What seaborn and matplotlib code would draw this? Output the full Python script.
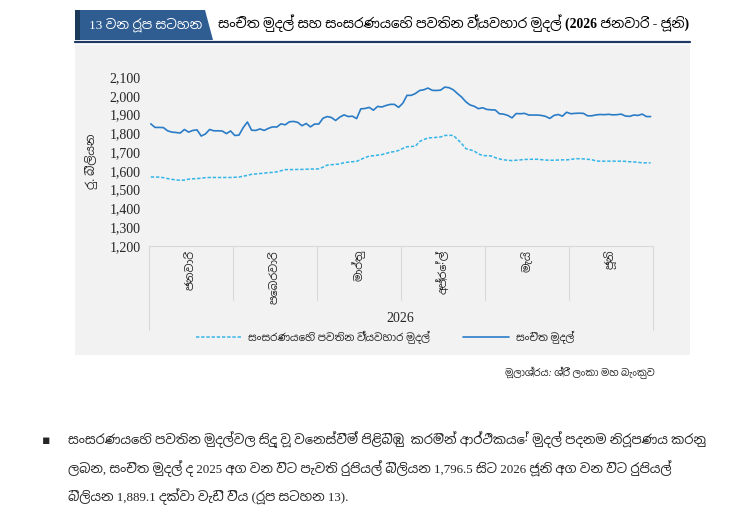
import numpy as np
import pandas as pd
import matplotlib
matplotlib.use("Agg")
import matplotlib.pyplot as plt
import seaborn as sns
from matplotlib import font_manager
from matplotlib.patches import Polygon, Rectangle
from matplotlib.lines import Line2D

# Data (Rs. billion, Jan - Jun 2026)
months = ["ජනවාරි", "පෙබරවාරි", "මාර්තු", "අප්‍රේල්", "මැයි", "ජූනි"]
points_per_month = [20, 20, 20, 20, 20, 20]
year_label = "2026"

reserve_money = [
    1850, 1831, 1831, 1830, 1813, 1806, 1804, 1801, 1820, 1806,
    1815, 1818, 1785, 1796, 1820, 1813, 1813, 1812, 1798, 1812,
    1788, 1790, 1830, 1860, 1816, 1815, 1823, 1815, 1826, 1834,
    1833, 1850, 1845, 1861, 1863, 1858, 1840, 1852, 1834, 1849,
    1849, 1880, 1889, 1884, 1868, 1886, 1898, 1889, 1891, 1878,
    1930, 1932, 1938, 1923, 1943, 1940, 1948, 1954, 1954, 1938,
    1960, 2002, 2002, 2012, 2028, 2032, 2041, 2029, 2028, 2030,
    2046, 2043, 2032, 2012, 1993, 1968, 1951, 1944, 1931, 1936,
    1927, 1925, 1924, 1904, 1902, 1895, 1882, 1905, 1904, 1906,
    1897, 1897, 1897, 1895, 1890, 1879, 1895, 1900, 1891, 1912,
    1904, 1906, 1907, 1906, 1893, 1893, 1898, 1900, 1899, 1901,
    1898, 1899, 1902, 1892, 1890, 1897, 1895, 1902, 1889, 1889,
]
currency_in_circulation = [
    1567, 1566, 1566, 1563, 1558, 1554, 1551, 1549, 1550, 1555,
    1557, 1558, 1560, 1563, 1564, 1564, 1564, 1564, 1564, 1564,
    1565, 1566, 1571, 1575, 1581, 1583, 1585, 1587, 1590, 1591,
    1594, 1600, 1606, 1606, 1606, 1607, 1607, 1608, 1609, 1609,
    1610, 1619, 1630, 1632, 1634, 1636, 1643, 1646, 1648, 1650,
    1660, 1670, 1678, 1680, 1683, 1686, 1692, 1699, 1702, 1708,
    1719, 1728, 1729, 1731, 1756, 1766, 1775, 1776, 1778, 1780,
    1788, 1789, 1788, 1768, 1745, 1718, 1712, 1705, 1690, 1681,
    1680, 1679, 1670, 1663, 1658, 1656, 1654, 1656, 1658, 1660,
    1661, 1661, 1661, 1659, 1657, 1656, 1656, 1657, 1658, 1658,
    1660, 1664, 1664, 1663, 1661, 1659, 1652, 1651, 1651, 1651,
    1651, 1651, 1651, 1650, 1648, 1647, 1645, 1642, 1642, 1642,
]
y_ticks = list(range(1200, 2101, 100))

label_cic = "සංසරණයෙහි පවතින ව්‍යවහාර මුදල්"
label_rm = "සංචිත මුදල්"
badge_text = "13 වන රූප සටහන"
title_text = "සංචිත මුදල් සහ සංසරණයෙහි පවතින ව්‍යවහාර මුදල් (2026 ජනවාරි - ජූනි)"
ylabel_text = "රු. බිලියන"
source_text = "මූලාශ්‍රය: ශ්‍රී ලංකා මහ බැංකුව"
para_lines = [
    "සංසරණයෙහි පවතින මුදල්වල සිදු වූ වෙනස්වීම් පිළිබිඹු  කරමින් ආර්ථිකයේ මුදල් පදනම නිරූපණය කරනු",
    "ලබන, සංචිත මුදල් ද 2025 අග වන විට පැවති රුපියල් බිලියන 1,796.5 සිට 2026 ජූනි අග වන විට රුපියල්",
    "බිලියන 1,889.1 දක්වා වැඩි විය (රූප සටහන 13).",
]


def find_sinhala_font():
    try:
        from fontTools.ttLib import TTFont
    except ImportError:
        return None
    fonts = sorted(font_manager.fontManager.ttflist, key=lambda f: "sinhala" not in f.name.lower())
    for f in fonts:
        try:
            tt = TTFont(f.fname, fontNumber=0, lazy=True)
            if 0x0D9A in tt.getBestCmap():
                return f.name
        except Exception:
            continue
    return None


sns.set_theme(style="white")
sinhala = find_sinhala_font()
families = ["Liberation Serif"] + ([sinhala] if sinhala else []) + ["DejaVu Sans"]
plt.rcParams["font.family"] = families

W, H = 750, 516
fig = plt.figure(figsize=(7.5, 5.16), dpi=100)
fig.patch.set_facecolor("white")


def fx(x):
    return x / W


def fy(y):
    return 1 - y / H


# grey panel behind the chart
fig.add_artist(Rectangle((fx(75), fy(355)), fx(690) - fx(75), fy(45) - fy(355),
                         transform=fig.transFigure, facecolor="#f2f2f2", edgecolor="none", zorder=-2))

# header badge and title
fig.add_artist(Polygon([(fx(80), fy(10)), (fx(205), fy(10)), (fx(213), fy(40)), (fx(80), fy(40))],
                       closed=True, transform=fig.transFigure, facecolor="#2f5d91", edgecolor="none"))
fig.add_artist(Rectangle((fx(75), fy(40)), fx(5), fy(10) - fy(40), transform=fig.transFigure,
                         facecolor="#1b3a5a", edgecolor="none"))
fig.add_artist(Line2D([fx(75), fx(690)], [fy(42), fy(42)], transform=fig.transFigure,
                      color="#1f3864", lw=1.6))
fig.text(fx(146), fy(25), badge_text, color="white", fontsize=9.5, ha="center", va="center")
fig.text(fx(218), fy(23), title_text, color="black", fontsize=9.8, fontweight="bold", ha="left", va="center")

# main plot area
ax = fig.add_axes([fx(148.7), fy(245.7), fx(652.7) - fx(148.7), fy(77) - fy(245.7)])
ax.set_facecolor("none")

n = len(reserve_money)
df = pd.DataFrame({
    "idx": np.arange(n),
    "rm": reserve_money,
    "cic": currency_in_circulation,
})
sns.lineplot(data=df, x="idx", y="cic", ax=ax, color="#33b5e8", lw=1.1,
             linestyle=(0, (2.2, 1.2)), label=label_cic)
sns.lineplot(data=df, x="idx", y="rm", ax=ax, color="#2a7cc7", lw=1.2, label=label_rm)

ax.set_xlim(-0.5, n - 0.5)
ax.set_ylim(1200, 2100)
ax.set_yticks(y_ticks)
ax.set_yticklabels([f"{v:,}" for v in y_ticks], fontsize=10)
ax.tick_params(axis="y", length=0, pad=6)
ax.set_xticks([])
ax.set_xlabel("")
ax.set_ylabel(ylabel_text, fontsize=8.5)
ax.yaxis.set_label_coords(-0.1, 0.5)
for s in ["top", "right", "left"]:
    ax.spines[s].set_visible(False)
ax.spines["bottom"].set_color("#d9d9d9")
ax.spines["bottom"].set_linewidth(0.8)

# month category band
edges = np.concatenate([[0], np.cumsum(points_per_month)]) - 0.5
trans = ax.get_xaxis_transform()
for k, e in enumerate(edges):
    low = -0.5 if k in (0, len(edges) - 1) else -0.32
    ax.plot([e, e], [0, low], transform=trans, color="#d9d9d9", lw=0.8, clip_on=False)
centers = (edges[:-1] + edges[1:]) / 2
for c, m in zip(centers, months):
    ax.text(c, -0.025, m, rotation=90, ha="center", va="top", fontsize=8, transform=trans)
ax.text((edges[0] + edges[-1]) / 2, -0.43, year_label, ha="center", va="center", fontsize=10, transform=trans)

# legend below the chart
handles, labels = ax.get_legend_handles_labels()
ax.get_legend().remove()
fig.legend(handles, labels, loc="center", bbox_to_anchor=(fx(385), fy(337)), ncol=2, frameon=False,
           handlelength=4.4, columnspacing=3.2, handletextpad=0.6, fontsize=7.5)

# source
fig.text(fx(655), fy(373), source_text, ha="right", va="center", fontsize=7, style="italic")

# paragraph below
fig.text(fx(42), fy(440), "▪", fontsize=9, ha="left", va="center", family="DejaVu Sans")
for i, line in enumerate(para_lines):
    fig.text(fx(68), fy(440 + i * 28.5), line, fontsize=9.4, ha="left", va="center")

fig.savefig("out.png", dpi=100)
